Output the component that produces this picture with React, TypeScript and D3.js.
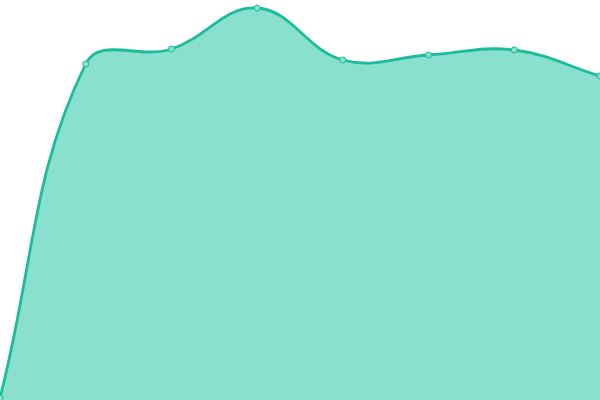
import React, { useEffect, useRef } from "react"
import * as d3 from "d3"

// values
const labels = ["0", "1", "2", "3", "4", "5", "6", "7"]
const values = [2, 336, 351, 392, 340, 345, 350, 324]

const W = 600
const H = 400
const TENSION = 0.4

// distance-weighted spline, like the one Chart.js draws with
class SplineCurve {
    _context: any
    _line: number = NaN
    _pts: [number, number][] = []
    constructor(context: any) {
        this._context = context
    }
    areaStart() {
        this._line = 0
    }
    areaEnd() {
        this._line = NaN
    }
    lineStart() {
        this._pts = []
    }
    point(x: number, y: number) {
        this._pts.push([+x, +y])
    }
    lineEnd() {
        const p = this._pts
        const n = p.length
        const c = this._context
        if (n) {
            if (this._line) c.lineTo(p[0][0], p[0][1])
            else c.moveTo(p[0][0], p[0][1])
            const prev: [number, number][] = []
            const next: [number, number][] = []
            for (let i = 0; i < n; i++) {
                const a = p[Math.max(0, i - 1)]
                const m = p[i]
                const b = p[Math.min(n - 1, i + 1)]
                const d01 = Math.hypot(m[0] - a[0], m[1] - a[1])
                const d12 = Math.hypot(b[0] - m[0], b[1] - m[1])
                let s01 = d01 / (d01 + d12)
                let s12 = d12 / (d01 + d12)
                if (isNaN(s01)) s01 = 0
                if (isNaN(s12)) s12 = 0
                const fa = TENSION * s01
                const fb = TENSION * s12
                prev.push([m[0] - fa * (b[0] - a[0]), m[1] - fa * (b[1] - a[1])])
                next.push([m[0] + fb * (b[0] - a[0]), m[1] + fb * (b[1] - a[1])])
            }
            for (let i = 0; i < n - 1; i++) {
                c.bezierCurveTo(next[i][0], next[i][1], prev[i + 1][0], prev[i + 1][1], p[i + 1][0], p[i + 1][1])
            }
        }
        if (this._line || (this._line !== 0 && n === 1)) c.closePath()
        this._line = 1 - this._line
    }
}

const curveSpline = (context: any) => new SplineCurve(context)

export default function App() {
    const ref = useRef<SVGSVGElement>(null)

    useEffect(() => {
        const svg = d3.select(ref.current)
        svg.selectAll("*").remove()

        const x = d3.scalePoint().domain(labels).range([0, W])
        const y = d3.scaleLinear().domain([0, 400]).range([H, 0])

        const area = d3
            .area<number>()
            .x((_, i) => x(labels[i])!)
            .y0(H)
            .y1((d) => y(d))
            .curve(curveSpline as any)

        const line = d3
            .line<number>()
            .x((_, i) => x(labels[i])!)
            .y((d) => y(d))
            .curve(curveSpline as any)

        svg.append("path").datum(values).attr("d", area).attr("fill", "#8ae0cf")

        svg.append("path")
            .datum(values)
            .attr("d", line)
            .attr("fill", "none")
            .attr("stroke", "#1abc9c")
            .attr("stroke-width", 2.8)

        svg.append("g")
            .selectAll("circle")
            .data(values)
            .enter()
            .append("circle")
            .attr("cx", (_, i) => x(labels[i])!)
            .attr("cy", (d) => y(d))
            .attr("r", 3)
            .attr("fill", "#8ae0cf")
            .attr("stroke", "#1abc9c")
            .attr("stroke-width", 1)
    }, [])

    return (
        <svg
            ref={ref}
            width={W}
            height={H}
            style={{ position: "absolute", top: 0, left: 0, background: "#fff" }}
        />
    )
}
